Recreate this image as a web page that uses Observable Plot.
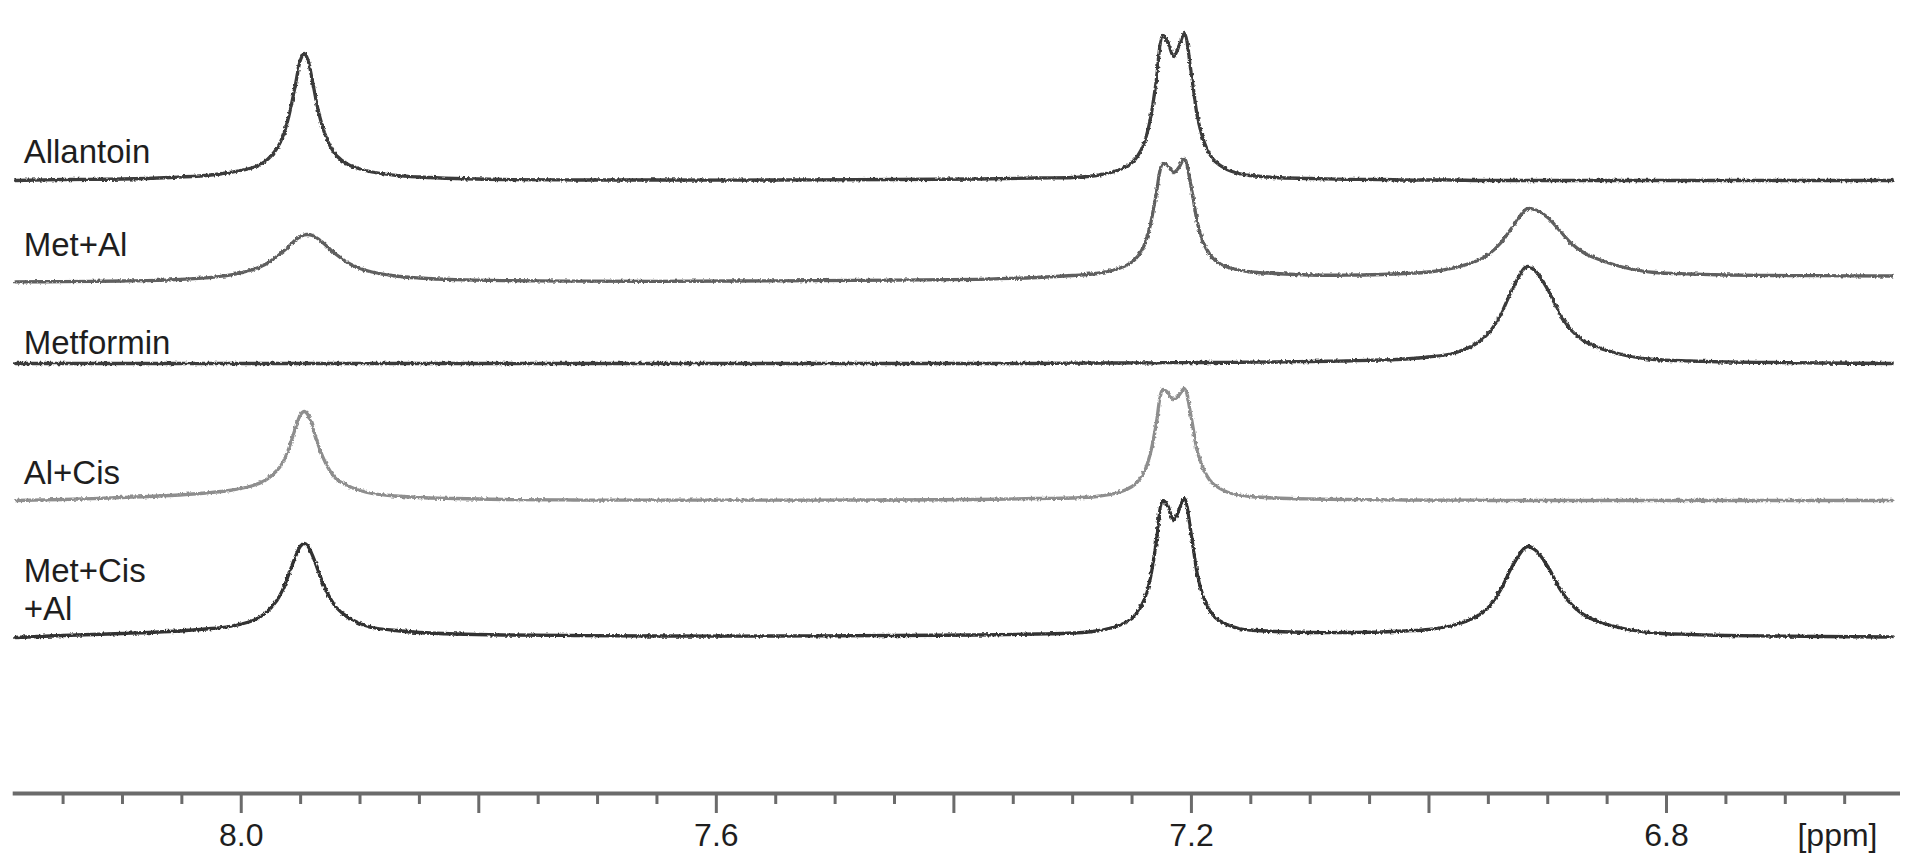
<!DOCTYPE html>
<html><head><meta charset="utf-8">
<script src="https://cdn.jsdelivr.net/npm/d3@7"></script>
<script src="https://cdn.jsdelivr.net/npm/@observablehq/plot@0.6"></script>
<style>html,body{margin:0;padding:0;background:#fff;overflow:hidden} svg{display:block}</style>
</head><body><div id="chart"></div>
<script>
// chemical shift grid (ppm), shared by all spectra
const ppm = [
 8.19, 8.15, 8.10, 8.06, 8.03, 8.01, 7.99, 7.98, 7.97, 7.965,
 7.96, 7.955, 7.95, 7.947, 7.944, 7.94, 7.935, 7.93, 7.925, 7.92,
 7.91, 7.90, 7.89, 7.87, 7.85, 7.82, 7.78, 7.72, 7.65, 7.55,
 7.45, 7.38, 7.33, 7.30, 7.28, 7.26, 7.25, 7.245, 7.24, 7.235,
 7.23, 7.224, 7.22, 7.215, 7.21, 7.206, 7.20, 7.195, 7.19, 7.185,
 7.18, 7.17, 7.16, 7.15, 7.13, 7.10, 7.07, 7.04, 7.02, 7.00,
 6.98, 6.96, 6.95, 6.94, 6.93, 6.92, 6.917, 6.91, 6.90, 6.89,
 6.88, 6.87, 6.86, 6.85, 6.83, 6.81, 6.78, 6.75, 6.71, 6.67,
 6.61
];
// intensities above each trace's own baseline (arbitrary units)
const allantoin = [
 0, 1, 1.5, 3, 5, 8, 13, 19, 32, 44,
 64, 92, 121, 127, 121, 99, 69, 48, 34, 25,
 16, 11.5, 8.5, 5.2, 3.5, 2, 1, 0.5, 0.5, 0.5,
 1, 1.5, 2.5, 3, 5, 11, 18, 25, 37, 59,
 96, 145, 139, 124, 136, 147, 106, 64, 41, 27,
 19, 11, 7, 5, 3, 2, 1.2, 1, 0.5, 0.5,
 0.5, 0, 0, 0, 0, 0, 0, 0, 0, 0,
 0, 0, 0, 0, 0, 0, 0, 0, 0, 0,
 0
];
const metAl = [
 -1.4, -1.1, -0.5, 0.6, 2.6, 5.3, 11, 16, 24, 29,
 34, 40, 44, 45.5, 46, 45, 41.5, 36.5, 31, 26,
 17.5, 12, 8.5, 4.5, 2.5, 0.8, -0.2, -0.6, -0.8, -0.3,
 0.3, 1.2, 3, 5, 7, 12.5, 18.5, 24.5, 34.5, 53.5,
 84, 117, 115, 108, 114, 122, 92, 58, 38, 27,
 20, 13.5, 10.5, 8.5, 7, 5.5, 5.3, 6, 7, 8.5,
 12.4, 19.5, 26, 37, 53, 69.5, 72, 70.5, 63, 50,
 37, 28, 22.5, 18, 11.5, 8, 6.5, 5.5, 5, 4.8,
 4.5
];
const metformin = [
 0, 0, 0, 0, 0, 0, 0, 0, 0, 0,
 0, 0, 0, 0, 0, 0, 0, 0, 0, 0,
 0, 0, 0, 0, 0, 0, 0, 0, 0, 0,
 0, 0, 0, 0.3, 0.5, 0.5, 0.6, 0.6, 0.7, 0.7,
 0.7, 0.8, 0.8, 0.8, 0.9, 0.9, 0.9, 1, 1, 1,
 1, 1.1, 1.2, 1.3, 1.5, 2, 2.5, 3.5, 4.5, 6.5,
 10, 20, 30, 48, 74, 95, 97, 92, 74, 50,
 33, 23, 17, 13, 7, 4, 2.5, 1.5, 1, 0.5,
 0
];
const alCis = [
 0, 1, 3, 5, 7.5, 10, 15, 20, 30, 38,
 52, 70, 86, 89, 86, 73.5, 55, 40, 29, 21.5,
 14.5, 10, 7, 4.5, 3, 2, 1, 0.5, 0.3, 0.3,
 0.5, 1, 2, 2.5, 4, 8.5, 14, 19, 28, 45,
 74, 111, 108, 101, 106, 112, 82, 49, 32, 21,
 15, 8.5, 5.5, 4, 2.5, 1.5, 1, 0.7, 0.5, 0.3,
 0.3, 0.3, 0, 0, 0, 0, 0, 0, 0, 0,
 0, 0, 0, 0, 0, 0, 0, 0, 0, 0,
 0
];
const metCisAl = [
 0, 2, 4, 6, 8.5, 11, 17, 24, 37, 48,
 63, 79, 91.6, 94, 91.6, 82, 66, 51, 39, 30,
 20, 14, 10, 7, 5, 3.5, 2.5, 2, 1.5, 1.5,
 2, 2.5, 3.5, 4.5, 6.5, 12.5, 19, 26, 37, 57,
 92, 137, 132, 117, 129, 139, 102, 63, 41, 28,
 20, 13, 9, 7.5, 6, 5, 5, 5.5, 6.5, 8,
 12, 21, 30, 47, 71, 89, 91, 87, 71, 49,
 33, 23, 17, 13, 7.5, 4.5, 3, 2, 1.5, 1,
 0.5
];

const seriesNames  = ["Allantoin", "Met+Al", "Metformin", "Al+Cis", "Met+Cis+Al"];
const seriesLabels = ["Allantoin", "Met+Al", "Metformin", "Al+Cis", "Met+Cis\n+Al"];
const seriesValues = [allantoin, metAl, metformin, alCis, metCisAl];
const stackOffset  = [613, 513, 430, 293, 156];   // vertical stacking of the spectra

const majorTicks    = [8.0, 7.8, 7.6, 7.4, 7.2, 7.0, 6.8];
const minorTicks    = [8.15, 8.10, 8.05, 7.95, 7.90, 7.85, 7.75, 7.70, 7.65, 7.55, 7.50, 7.45,
                       7.35, 7.30, 7.25, 7.15, 7.10, 7.05, 6.95, 6.90, 6.85, 6.75, 6.70, 6.65];
const labelledTicks = [8.0, 7.6, 7.2, 6.8];
const unitLabel = "[ppm]";

// ---- layout / style (not data) ----
const traceColors = ["#3b3b3b", "#5f5f5f", "#3b3b3b", "#8e8e8e", "#323232"];
const labelRise   = [30, 37, 22, 29, 49];
const axisGray = "#6b6b6b";
const font = "'Liberation Sans', Arial, Helvetica, sans-serif";

const rows = seriesNames.flatMap((name, i) =>
  ppm.map((p, j) => ({name, ppm: p, value: stackOffset[i] + seriesValues[i][j]})));

const chart = Plot.plot({
  width: 1913,
  height: 866,
  marginLeft: 12.7,
  marginRight: 13,
  marginTop: 0,
  marginBottom: 73,
  style: {fontFamily: font, fontSize: "33px", background: "#fff", color: "#1e1e1e"},
  x: {domain: [8.192, 6.603], label: null},
  y: {domain: [0, 793], axis: null, label: null},
  color: {domain: seriesNames, range: traceColors},
  marks: [
    Plot.ruleY([0], {stroke: axisGray, strokeWidth: 4}),
    Plot.axisX(minorTicks, {anchor: "bottom", label: null, tickSize: 11, tickFormat: () => "", stroke: axisGray, strokeWidth: 3}),
    Plot.axisX(majorTicks, {anchor: "bottom", label: null, tickSize: 20, tickPadding: 10, stroke: axisGray, strokeWidth: 3,
      fill: "#1e1e1e", fontSize: 32, fontFamily: font,
      tickFormat: d => labelledTicks.some(t => Math.abs(t - d) < 1e-9) ? d.toFixed(1) : ""}),
    Plot.text([unitLabel], {frameAnchor: "bottom-right", textAnchor: "end", lineAnchor: "top",
      dx: -23, dy: 30, fontSize: 32, fontFamily: font, fill: "#1e1e1e"}),
    Plot.line(rows, {x: "ppm", y: "value", z: "name", stroke: "name", strokeWidth: 3.3,
      curve: "catmull-rom", strokeLinejoin: "round"}),
    Plot.text(seriesLabels, {frameAnchor: "left", y: (d, i) => stackOffset[i] + labelRise[i],
      dx: 10.5, textAnchor: "start", lineHeight: 1.17, fontSize: 33, fontFamily: font, fill: "#1e1e1e"})
  ]
});

// slight texture on the traces to mimic the recorded spectra's fuzz (visual filter only)
const ns = "http://www.w3.org/2000/svg";
const defs = document.createElementNS(ns, "defs");
defs.innerHTML = `<filter id="rough" filterUnits="userSpaceOnUse" x="0" y="0" width="1913" height="866">
  <feTurbulence type="fractalNoise" baseFrequency="0.4 0.3" numOctaves="2" seed="7" result="n"/>
  <feDisplacementMap in="SourceGraphic" in2="n" scale="3.4" xChannelSelector="R" yChannelSelector="G"/>
</filter>`;
chart.insertBefore(defs, chart.firstChild);
const lineGroup = chart.querySelector('g[aria-label="line"]');
if (lineGroup) lineGroup.setAttribute("filter", "url(#rough)");
document.getElementById("chart").appendChild(chart);
</script>
</body></html>
